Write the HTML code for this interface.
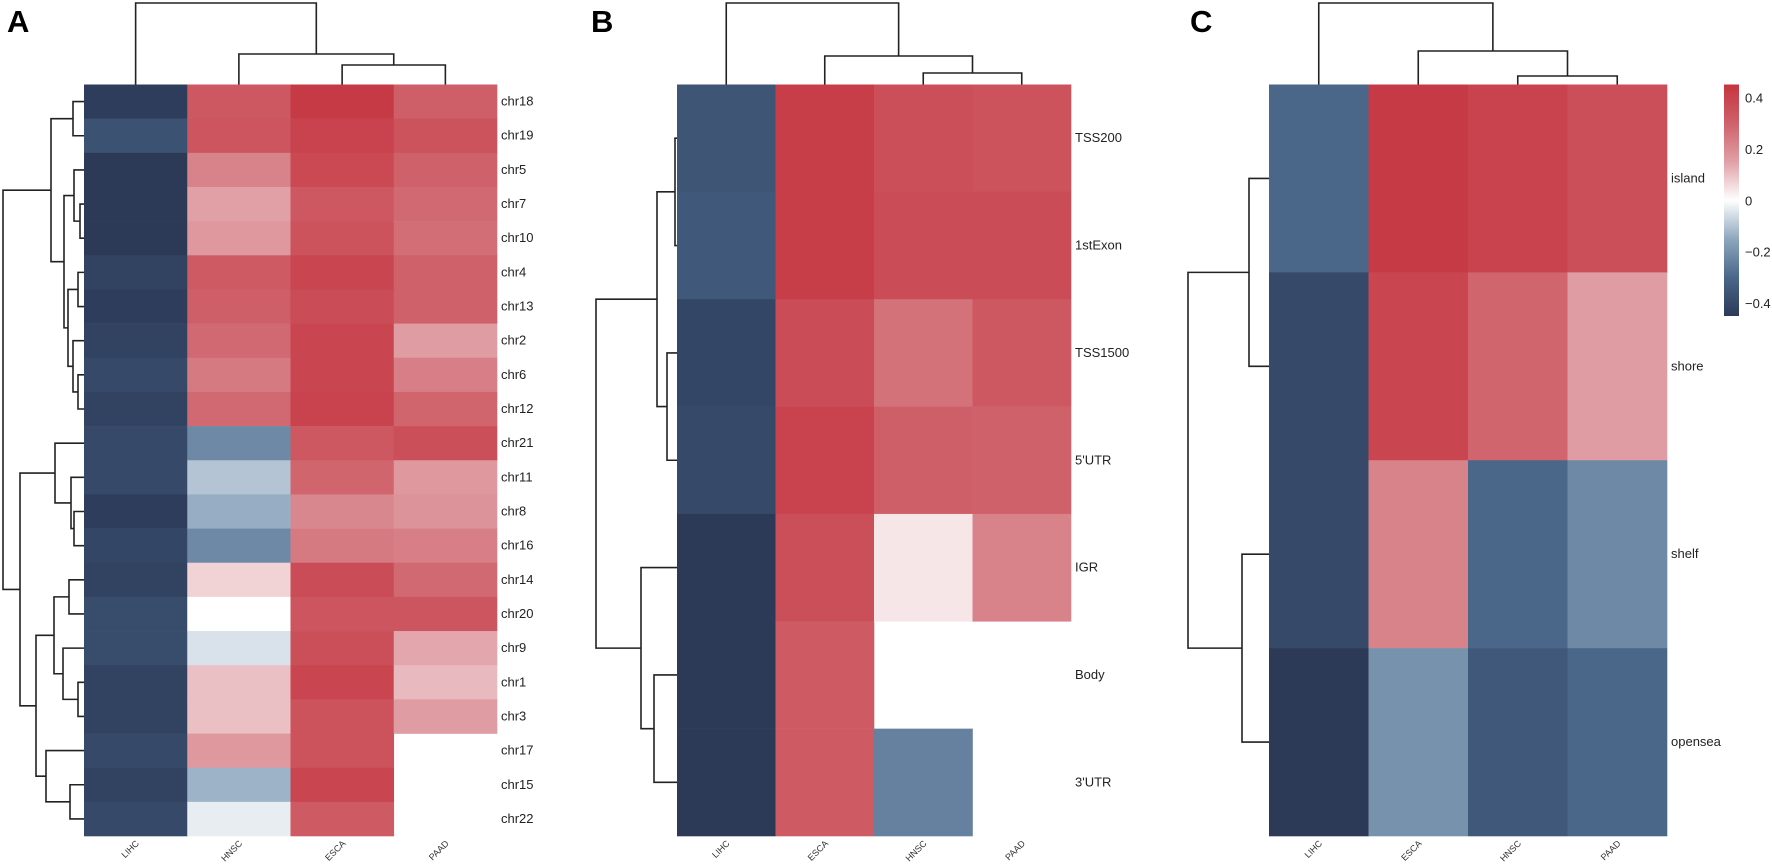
<!DOCTYPE html>
<html><head><meta charset="utf-8"><style>
html,body{margin:0;padding:0;background:#fff;}
svg{display:block;font-family:"Liberation Sans",sans-serif;}
</style></head><body>
<svg id="fig" width="1772" height="864" viewBox="0 0 1772 864" xmlns="http://www.w3.org/2000/svg">
<defs>
<linearGradient id="cbar" x1="0" y1="1" x2="0" y2="0">
<stop offset="0" stop-color="#2c3a58"/><stop offset="0.1667" stop-color="#4a678a"/><stop offset="0.3333" stop-color="#8ea7bf"/><stop offset="0.5" stop-color="#ffffff"/><stop offset="0.6667" stop-color="#e0a0a6"/><stop offset="0.8333" stop-color="#cf616a"/><stop offset="1" stop-color="#c5343f"/>
</linearGradient>
</defs>
</svg>
<script>
// ---- data ----
const colsA = ["LIHC","HNSC","ESCA","PAAD"];
const rowsA = ["chr18","chr19","chr5","chr7","chr10","chr4","chr13","chr2","chr6","chr12","chr21","chr11","chr8","chr16","chr14","chr20","chr9","chr1","chr3","chr17","chr15","chr22"];
const lihcA = [-0.44,-0.37,-0.45,-0.45,-0.45,-0.42,-0.44,-0.42,-0.40,-0.42,-0.40,-0.40,-0.44,-0.41,-0.42,-0.39,-0.39,-0.42,-0.42,-0.40,-0.42,-0.40];
const hnscA = [0.33,0.34,0.22,0.15,0.17,0.32,0.31,0.28,0.24,0.28,-0.22,-0.10,-0.14,-0.22,0.07,0.00,-0.05,0.10,0.10,0.17,-0.13,-0.03];
const escaA = [0.43,0.40,0.38,0.33,0.35,0.39,0.37,0.39,0.39,0.40,0.33,0.29,0.21,0.24,0.37,0.34,0.36,0.39,0.35,0.35,0.39,0.32];
const paadA = [0.31,0.35,0.30,0.28,0.27,0.30,0.30,0.16,0.23,0.29,0.36,0.17,0.18,0.23,0.28,0.34,0.14,0.11,0.16,null,null,null];

const colsB = ["LIHC","ESCA","HNSC","PAAD"];
const rowsB = ["TSS200","1stExon","TSS1500","5'UTR","IGR","Body","3'UTR"];
const lihcB = [-0.36,-0.35,-0.41,-0.40,-0.46,-0.45,-0.45];
const escaB = [0.42,0.42,0.37,0.40,0.36,0.32,0.32];
const hnscB = [0.36,0.37,0.26,0.31,0.04,null,-0.24];
const paadB = [0.35,0.37,0.33,0.30,0.22,null,null];

const colsC = ["LIHC","ESCA","HNSC","PAAD"];
const rowsC = ["island","shore","shelf","opensea"];
const lihcC = [-0.30,-0.40,-0.40,-0.45];
const escaC = [0.43,0.39,0.22,-0.20];
const hnscC = [0.40,0.29,-0.30,-0.35];
const paadC = [0.36,0.16,-0.22,-0.30];

const cbarTicks = [0.4,0.2,0,-0.2,-0.4];
const cbarLabels = ["0.4","0.2","0","\u22120.2","\u22120.4"];

// ---- helpers ----
const NS="http://www.w3.org/2000/svg";
const svg=document.getElementById('fig');
function mk(tag,attrs,parent){const e=document.createElementNS(NS,tag);for(const k in attrs)e.setAttribute(k,attrs[k]);(parent||svg).appendChild(e);return e;}
const stops=[[-0.45,[44,58,88]],[-0.3,[74,103,138]],[-0.15,[142,167,191]],[0,[255,255,255]],[0.15,[224,160,166]],[0.3,[207,97,106]],[0.45,[197,52,63]]];
function color(v){
  v=Math.max(-0.45,Math.min(0.45,v));
  for(let i=0;i<stops.length-1;i++){const a=stops[i],b=stops[i+1];
    if(v<=b[0]){const t=(v-a[0])/(b[0]-a[0]);const c=a[1].map((x,j)=>Math.round(x+(b[1][j]-x)*t));return `rgb(${c[0]},${c[1]},${c[2]})`;}}
  return 'rgb(197,52,63)';
}
function line(pts,g){mk('polyline',{points:pts.map(p=>p.join(',')).join(' '),fill:'none',stroke:'#222','stroke-width':1.6},g);}

function panel(o){
  const g=mk('g',{});
  
  
  const nR=o.rows.length,nC=o.cols.length;
  const cw=(o.x1-o.x0)/nC,rh=(o.y1-o.y0)/nR;
  const xc=i=>o.x0+cw*(i+0.5), yc=i=>o.y0+rh*(i+0.5);
  // cells
  o.series.forEach((ser,ci)=>{ser.forEach((v,ri)=>{if(v===null)return;
    const r=mk('rect',{x:o.x0+cw*ci,y:o.y0+rh*ri,width:cw+0.3,height:rh+0.3,fill:color(v)},g);
    
    });});
  // row labels
  o.rows.forEach((r,ri)=>{const t=mk('text',{x:o.x1+4,y:yc(ri)+4,'font-size':o.rfs,fill:'#222'},g);t.textContent=r;
    
    });
  // col labels
  o.cols.forEach((c,ci)=>{const t=mk('text',{x:xc(ci)+4,y:o.y1+8,'font-size':9,fill:'#333','text-anchor':'end',transform:`rotate(-45 ${xc(ci)+4} ${o.y1+8})`},g);t.textContent=c;
    
    });
  // row dendrogram: tree nodes {a,b,x} where a/b are leaf index or node
  function rowNode(n){if(typeof n==='number')return {y:yc(n),x:o.x0};
    const A=rowNode(n[0]),B=rowNode(n[1]);line([[A.x,A.y],[n[2],A.y],[n[2],B.y],[B.x,B.y]],g);return {y:(A.y+B.y)/2,x:n[2]};}
  rowNode(o.rtree);
  function colNode(n){if(typeof n==='number')return {x:xc(n),y:o.y0};
    const A=colNode(n[0]),B=colNode(n[1]);line([[A.x,A.y],[A.x,n[2]],[B.x,n[2]],[B.x,B.y]],g);return {x:(A.x+B.x)/2,y:n[2]};}
  colNode(o.ctree);
  const L=mk('text',{x:o.lx,y:32,'font-size':31,'font-weight':'bold',fill:'#000'},g);L.textContent=o.letter;
  
  
}

panel({name:'panel-a-chromosome-heatmap',letter:'A',lx:7,x0:84,x1:497,y0:84.5,y1:836,rows:rowsA,cols:colsA,series:[lihcA,hnscA,escaA,paadA],rfs:13,
  ctree:[0,[1,[2,3,65]],54].length?[0,[1,[2,3,65],54],3]:null,
  rtree:[[[0,1,73],[[2,[3,4,80],74],[[5,6,78],[7,[8,9,78],73],68],64],51],
         [[10,[11,[12,13,74],71],55],[[[14,15,69],[16,[17,18,78],63],54],[19,[20,21,70],46],36],20],3]});
panel({name:'panel-b-region-heatmap',letter:'B',lx:591,x0:677,x1:1071,y0:84.5,y1:836,rows:rowsB,cols:colsB,series:[lihcB,escaB,hnscB,paadB],rfs:13,
  ctree:[0,[1,[2,3,73],56],3],
  rtree:[[[0,1,675],[2,3,667],657],[4,[5,6,654],641],596]});
panel({name:'panel-c-cpg-heatmap',letter:'C',lx:1190,x0:1269,x1:1667,y0:84.5,y1:836,rows:rowsC,cols:colsC,series:[lihcC,escaC,hnscC,paadC],rfs:13,
  ctree:[0,[1,[2,3,76],51],3],
  rtree:[[0,1,1249],[2,3,1242],1188]});

// colorbar
const cb=mk('rect',{x:1724,y:84.5,width:15,height:231.5,fill:'url(#cbar)'});


const cbY=v=>316-(v+0.45)/0.9*231.5;
cbarTicks.forEach((v,i)=>{const t=mk('text',{x:1745,y:cbY(v)+5,'font-size':13,fill:'#222'});t.textContent=cbarLabels[i];
  
  });
</script>
</body></html>
